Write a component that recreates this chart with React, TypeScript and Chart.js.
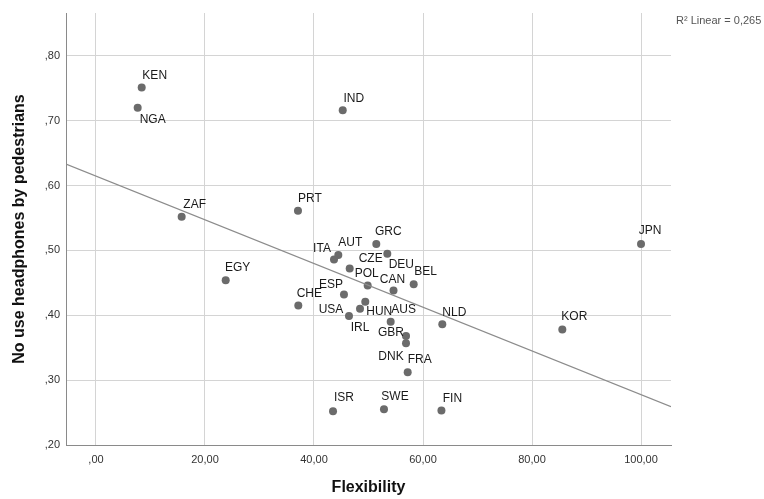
import React, { useEffect, useRef } from "react";
import { Chart, registerables } from "chart.js";

Chart.register(...registerables);

const countries = ["KEN","NGA","IND","ZAF","PRT","GRC","DEU","AUT","ITA","CZE","POL","BEL","CAN","ESP","CHE","HUN","USA","IRL","AUS","NLD","GBR","DNK","FRA","KOR","JPN","EGY","ISR","SWE","FIN"];
const flexibility = [8.39,7.65,45.27,15.72,37.06,51.43,53.45,44.46,43.67,46.55,49.85,58.29,54.59,45.50,37.12,49.41,48.44,46.42,54.07,63.54,56.88,56.88,57.19,85.56,100.0,23.80,43.49,52.84,63.38];
const noHeadphones = [0.751,0.720,0.716,0.552,0.561,0.510,0.495,0.493,0.486,0.472,0.446,0.448,0.438,0.432,0.415,0.421,0.410,0.399,0.390,0.386,0.368,0.357,0.312,0.378,0.510,0.454,0.252,0.255,0.253];
// label placement (pixel offsets of label centre from its point)
const labelOffsets: [number, number][] = [[13,-12],[15,12],[11,-12],[13,-12],[12,-12],[12,-12],[14,11],[12,-12],[-12,-11],[21,-10],[-1,-12],[12,-12],[-1,-11],[-13,-10],[11,-12],[14,10],[-29,1],[11,12],[13,-12],[12,-12],[-15,-3],[-15,14],[12,-13],[12,-13],[9,-13],[12,-13],[11,-14],[11,-13],[11,-12]];
const fitX = [-5.5, 105.5];
const fitY = [0.633, 0.259];
const xTicks = [0, 20, 40, 60, 80, 100];
const yTicks = [0.2, 0.3, 0.4, 0.5, 0.6, 0.7, 0.8];
const r2Text = "R\u00B2 Linear = 0,265";

const FONT = "'Liberation Sans', Arial, sans-serif";
const fmt = (v: number) => {
  const s = v.toFixed(2).replace(".", ",");
  return s.startsWith("0,") ? s.slice(1) : s;
};

const labelPlugin = {
  id: "pointLabels",
  afterDatasetsDraw(chart: any) {
    const ctx = chart.ctx;
    const meta = chart.getDatasetMeta(1);
    ctx.save();
    ctx.font = `12px ${FONT}`;
    ctx.fillStyle = "#1a1a1a";
    ctx.textAlign = "center";
    ctx.textBaseline = "middle";
    meta.data.forEach((el: any, i: number) => {
      const [dx, dy] = labelOffsets[i];
      ctx.fillText(countries[i], el.x + dx, el.y + dy);
    });
    ctx.font = `11px ${FONT}`;
    ctx.fillStyle = "#555";
    ctx.textAlign = "left";
    ctx.fillText(r2Text, 676, 21);
    ctx.restore();
  },
};

export default function App() {
  const ref = useRef<HTMLCanvasElement>(null);
  useEffect(() => {
    if (!ref.current) return;
    const chart = new Chart(ref.current, {
      type: "scatter",
      data: {
        datasets: [
          {
            type: "line",
            data: fitX.map((x, i) => ({ x, y: fitY[i] })),
            borderColor: "#8c8c8c",
            borderWidth: 1.2,
            pointRadius: 0,
            fill: false,
          } as any,
          {
            data: flexibility.map((x, i) => ({ x, y: noHeadphones[i] })),
            backgroundColor: "#6b6b6b",
            borderColor: "#6b6b6b",
            pointRadius: 4,
            borderWidth: 0,
          },
        ],
      },
      options: {
        responsive: false,
        animation: false,
        devicePixelRatio: 1,
        layout: { padding: { left: 0, right: 93, top: 13, bottom: 0 } },
        plugins: { legend: { display: false }, tooltip: { enabled: false } },
        scales: {
          x: {
            type: "linear",
            min: -5.5,
            max: 105.5,
            afterBuildTicks: (s: any) => { s.ticks = xTicks.map((v) => ({ value: v })); },
            afterFit: (s: any) => { s.height = 54; },
            grid: { color: "#d4d4d4", drawTicks: false },
            border: { color: "#8a8a8a", width: 1 },
            ticks: { callback: (v: any) => fmt(Number(v)), font: { family: FONT, size: 11 }, color: "#333", padding: 8, maxRotation: 0 },
            title: { display: true, text: "Flexibility", font: { family: FONT, size: 16, weight: "bold" }, color: "#111", padding: { top: 0, bottom: 2 } },
          },
          y: {
            type: "linear",
            min: 0.2,
            max: 0.866,
            afterBuildTicks: (s: any) => { s.ticks = yTicks.map((v) => ({ value: v })); },
            afterFit: (s: any) => { s.width = 66; },
            grid: { color: "#d4d4d4", drawTicks: false },
            border: { color: "#8a8a8a", width: 1 },
            ticks: { callback: (v: any) => fmt(Number(v)), font: { family: FONT, size: 11 }, color: "#333", padding: 6 },
            title: { display: true, text: "No use headphones by pedestrians", font: { family: FONT, size: 16, weight: "bold" }, color: "#111", padding: { top: 10, bottom: 0 } },
          },
        },
      },
      plugins: [labelPlugin],
    });
    return () => chart.destroy();
  }, []);
  return (
    <div style={{ position: "absolute", left: 0, top: 0, width: 764, height: 499, background: "#fff" }}>
      <canvas ref={ref} width={764} height={499} style={{ width: 764, height: 499, display: "block" }} />
    </div>
  );
}
